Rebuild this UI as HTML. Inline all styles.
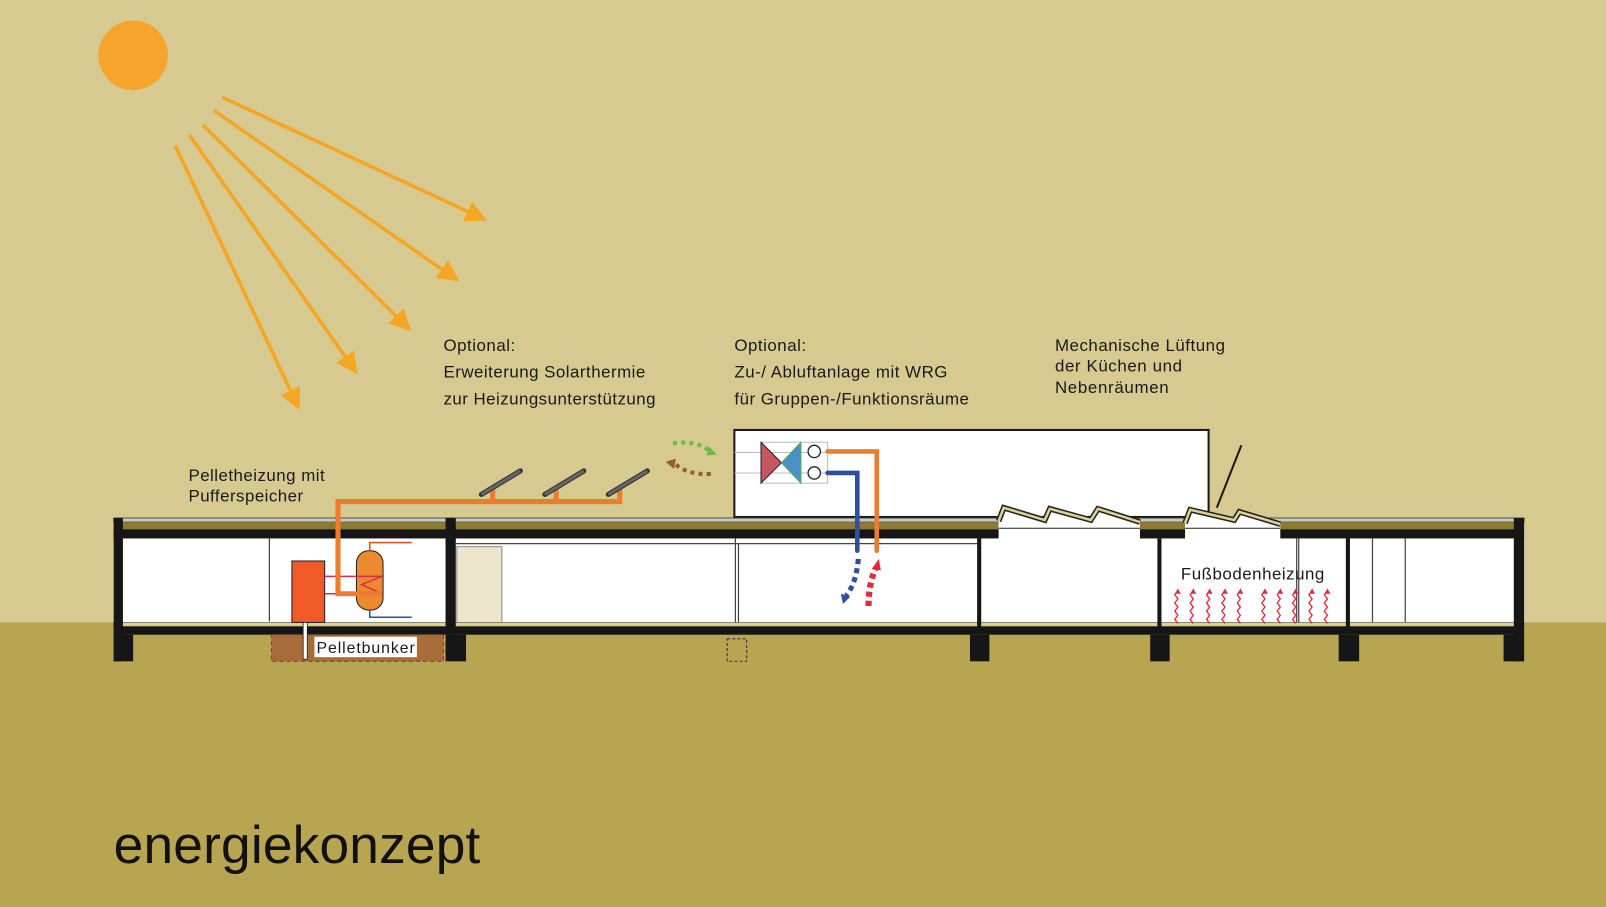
<!DOCTYPE html>
<html><head><meta charset="utf-8"><style>
html,body{margin:0;padding:0;background:#d6ca91;}
svg{display:block}
text{font-family:"Liberation Sans",sans-serif;fill:#1a1a1a}
</style></head><body>
<svg width="1606" height="907" viewBox="0 0 1568 886" preserveAspectRatio="none" xmlns="http://www.w3.org/2000/svg">
<defs>
<marker id="ah" markerWidth="6" markerHeight="6" refX="3" refY="3" orient="auto" markerUnits="strokeWidth"><path d="M0,0 L6,3 L0,6 z" fill="#f5a623"/></marker>
</defs>
<rect x="0" y="0" width="1568" height="608" fill="#d6ca91"/>
<rect x="0" y="608" width="1568" height="278" fill="#b8a552"/>
<circle cx="130" cy="54" r="34" fill="#f6a52c"/>
<g stroke="#f5a623" stroke-width="3.5" marker-end="url(#ah)" fill="none">
<line x1="217" y1="95" x2="466" y2="211"/>
<line x1="209" y1="108" x2="440" y2="269"/>
<line x1="198" y1="122" x2="394" y2="316"/>
<line x1="185" y1="132" x2="343" y2="357"/>
<line x1="171" y1="142" x2="288" y2="391"/>
</g>
<g font-size="16.5">
<text x="433" y="343" textLength="70">Optional:</text>
<text x="433" y="369" textLength="197">Erweiterung Solarthermie</text>
<text x="433" y="395" textLength="207">zur Heizungsunterstützung</text>
<text x="717" y="343" textLength="70">Optional:</text>
<text x="717" y="369" textLength="208">Zu-/ Abluftanlage mit WRG</text>
<text x="717" y="395" textLength="229">für Gruppen-/Funktionsräume</text>
<text x="1030" y="343" textLength="166">Mechanische Lüftung</text>
<text x="1030" y="363" textLength="124">der Küchen und</text>
<text x="1030" y="384" textLength="111">Nebenräumen</text>
<text x="184" y="470" textLength="133">Pelletheizung mit</text>
<text x="184" y="490" textLength="112">Pufferspeicher</text>
</g>
<!-- vent box -->
<rect x="717" y="420" width="463" height="85" fill="#fff" stroke="#1a1a1a" stroke-width="2"/>
<g stroke="#bbb" stroke-width="1" fill="none"><line x1="717" y1="442" x2="808" y2="442"/><line x1="717" y1="462" x2="808" y2="462"/><rect x="743" y="432" width="65" height="40"/></g>
<polygon points="743,432 743,472 763,452" fill="#c85660" stroke="#222" stroke-width="1"/>
<polygon points="782,432 782,472 763,452" fill="#4a90c8" stroke="#5a5" stroke-width="1"/>
<circle cx="795" cy="441" r="6" fill="#fff" stroke="#222" stroke-width="1.3"/>
<circle cx="795" cy="462" r="6" fill="#fff" stroke="#222" stroke-width="1.3"/>
<path d="M657,433 Q680,430 692,440" stroke="#6cbb45" stroke-width="4" stroke-dasharray="4,4" fill="none"/>
<polygon points="692,436 700,444 690,445" fill="#6cbb45"/>
<path d="M694,463 Q672,464 660,454" stroke="#9a5a32" stroke-width="4" stroke-dasharray="4,4" fill="none"/>
<polygon points="650,451 660,448 658,458" fill="#9a5a32"/>
<!-- building roof -->
<rect x="111" y="506" width="1377" height="4" fill="#c8c8c8" stroke="#333" stroke-width="0.8"/>
<rect x="111" y="510" width="1377" height="7" fill="#8d7a2e"/>
<rect x="111" y="517" width="1377" height="9" fill="#161616"/>
<!-- sawtooth -->
<polygon points="975,508 980,495 1020,508 1025,496 1065,508 1072,496 1113,510 1113,526 975,526" fill="#fff"/>
<rect x="975" y="512" width="138" height="4" fill="#fff"/>
<polyline points="975,509 980,496 1020,508 1025,497 1065,508 1072,497 1113,510" fill="none" stroke="#222" stroke-width="5.5" stroke-linejoin="miter"/>
<polyline points="975,509 980,496 1020,508 1025,497 1065,508 1072,497 1113,510" fill="none" stroke="#ddd095" stroke-width="2.5"/>
<line x1="975" y1="516" x2="1113" y2="516" stroke="#222" stroke-width="1"/>
<polygon points="1157,511 1162,497 1205,508 1210,500 1250,512 1250,526 1157,526" fill="#fff"/>
<polyline points="1157,511 1162,498 1205,508 1210,500 1250,512" fill="none" stroke="#222" stroke-width="5.5"/>
<polyline points="1157,511 1162,498 1205,508 1210,500 1250,512" fill="none" stroke="#ddd095" stroke-width="2.5"/>
<line x1="1157" y1="516" x2="1250" y2="516" stroke="#222" stroke-width="1"/>
<line x1="1212" y1="435" x2="1188" y2="496" stroke="#1a1a1a" stroke-width="2"/>
<!-- interior -->
<rect x="120" y="526" width="1358" height="83" fill="#fff"/>
<rect x="446" y="534" width="44" height="75" fill="#eee6cc" stroke="#888" stroke-width="1"/>
<rect x="111" y="608" width="1377" height="4" fill="#ddd095" stroke="#555" stroke-width="0.6"/>
<rect x="111" y="612" width="1377" height="8" fill="#161616"/>
<g fill="#161616">
<rect x="111" y="506" width="9" height="140"/>
<rect x="111" y="620" width="19" height="26"/>
<rect x="435" y="506" width="10" height="114"/>
<rect x="435" y="620" width="20" height="26"/>
<rect x="954" y="526" width="4" height="86"/>
<rect x="947" y="620" width="19" height="26"/>
<rect x="1130" y="526" width="4" height="86"/>
<rect x="1123" y="620" width="19" height="26"/>
<rect x="1314" y="526" width="4" height="86"/>
<rect x="1307" y="620" width="20" height="26"/>
<rect x="1478" y="506" width="10" height="140"/>
<rect x="1468" y="620" width="20" height="26"/>
</g>
<g stroke="#444" stroke-width="1.2" fill="none">
<line x1="263" y1="526" x2="263" y2="607"/>
<line x1="445" y1="531" x2="954" y2="531"/>
<line x1="718" y1="526" x2="718" y2="608"/><line x1="721" y1="531" x2="721" y2="608"/>
<line x1="1266" y1="526" x2="1266" y2="608"/><line x1="1268" y1="526" x2="1268" y2="608"/>
<line x1="1340" y1="526" x2="1340" y2="608"/><line x1="1372" y1="526" x2="1372" y2="608"/>
<rect x="710" y="624" width="19" height="22" stroke-dasharray="3,2"/>
</g>
<!-- vent pipes -->
<path d="M808,441 H856 V538" stroke="#ec7c2e" stroke-width="4.5" fill="none" stroke-linecap="round"/>
<path d="M808,462 H837 V538" stroke="#2e4fa0" stroke-width="4.5" fill="none" stroke-linecap="round"/>
<path d="M838,546 Q836,570 826,582" stroke="#2e4fa0" stroke-width="5" stroke-dasharray="5,4" fill="none"/>
<polygon points="821,580 830,583 823,590" fill="#2e4fa0"/>
<path d="M848,592 Q848,570 855,555" stroke="#e8283a" stroke-width="6" stroke-dasharray="5,4" fill="none"/>
<polygon points="851,556 858,546 860,557" fill="#e8283a"/>
<!-- pellet -->
<rect x="265" y="620" width="168" height="26" fill="#a86c3a" stroke="#7a4a22" stroke-dasharray="4,3"/>
<rect x="285" y="548" width="32" height="60" fill="#f05a28" stroke="#222" stroke-width="1"/>
<rect x="296" y="608" width="4" height="36" fill="#fff" stroke="#222" stroke-width="0.8"/>
<rect x="307" y="622" width="100" height="20" fill="#fff"/>
<text x="309" y="638" font-size="15.5" textLength="96">Pelletbunker</text>
<rect x="348" y="538" width="26" height="58" rx="12" fill="#ec8a30" stroke="#222" stroke-width="1"/>
<g stroke="#d83040" stroke-width="1.5" fill="none"><path d="M317,563 H373 L353,571 L373,580 H317"/></g>
<path d="M361,538 V530 H402" stroke="#d05a20" stroke-width="1.5" fill="none"/>
<path d="M361,596 V603 H402" stroke="#2e4fa0" stroke-width="1.5" fill="none"/>
<!-- solar -->
<path d="M373,580 H330 V490 H605 V478 M543,490 V478 M481,490 V478" stroke="#ec7c2e" stroke-width="5" fill="none"/>
<g stroke="#333" stroke-width="5" stroke-linecap="round"><line x1="470" y1="483" x2="508" y2="460"/><line x1="532" y1="483" x2="570" y2="460"/><line x1="594" y1="483" x2="632" y2="460"/></g>
<g stroke="#666" stroke-width="3"><line x1="470" y1="483" x2="508" y2="460"/><line x1="532" y1="483" x2="570" y2="460"/><line x1="594" y1="483" x2="632" y2="460"/></g>
<!-- floor heating -->
<text x="1153" y="566" font-size="16.5" textLength="140">Fußbodenheizung</text>
<g stroke="#e8283a" stroke-width="1.3" fill="none">
<path id="w" d="M1150,609 l-3,-4 l3,-4 l-3,-4 l3,-4 l-3,-4 l3,-4 l-3,-4 l3,-4 V578"/>
<use href="#w" x="15"/><use href="#w" x="31"/><use href="#w" x="46"/><use href="#w" x="61"/>
<use href="#w" x="85"/><use href="#w" x="100"/><use href="#w" x="115"/><use href="#w" x="131"/><use href="#w" x="146"/>
</g>
<g fill="#e8283a">
<polygon id="t" points="1147,580 1150,575 1153,580"/>
<use href="#t" x="15"/><use href="#t" x="31"/><use href="#t" x="46"/><use href="#t" x="61"/>
<use href="#t" x="85"/><use href="#t" x="100"/><use href="#t" x="115"/><use href="#t" x="131"/><use href="#t" x="146"/>
</g>
<text x="111" y="843" font-size="52" textLength="358" style="fill:#111">energiekonzept</text>
</svg>
</body></html>
